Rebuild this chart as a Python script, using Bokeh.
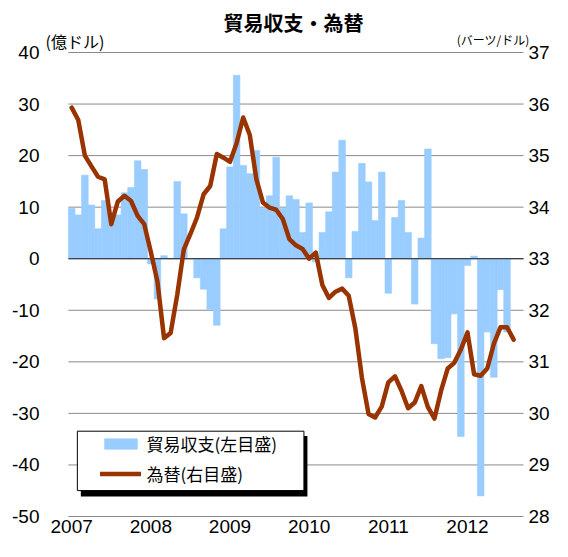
import pandas as pd
from bokeh.plotting import figure
from bokeh.models import (Range1d, LinearAxis, FixedTicker, Legend, LegendItem,
                          Label, BoxAnnotation, ColumnDataSource)
from bokeh.embed import file_html
from bokeh.resources import INLINE

# ---------------- data ----------------
months = pd.date_range("2007-01-01", periods=68, freq="MS").strftime("%Y-%m").tolist()

trade_balance = [  # 億ドル, 2007-01 .. 2012-07
    9.8, 8.5, 16.2, 10.4, 5.8, 11.3, 8.3, 8.5, 12.8, 13.8, 19.0, 17.3,
    -1.0, -7.8, 0.6, 0.0, 15.0, 8.7, 0.0, -3.7, -5.9, -9.9, -12.9, 5.8,
    17.8, 35.6, 18.1, 16.5, 21.0, 9.8, 12.2, 19.7, 9.8, 12.2, 11.5, 5.1,
    10.8, -0.6, 5.1, 9.1, 16.8, 23.0, -3.7, 5.3, 18.5, 14.9, 7.4, 16.8,
    -6.7, 8.0, 11.3, 5.1, -8.8, 4.0, 21.3, -16.5, -19.4, -19.2, -10.7, -34.5,
    -1.3, 0.5, -46.0, -14.2, -23.0, -6.0, -14.2,
]

exchange_rate = [  # バーツ/ドル, 2007-01 .. 2012-08
    35.93, 35.69, 35.00, 34.79, 34.59, 34.54, 33.67, 34.11, 34.22, 34.12, 33.83, 33.67,
    33.13, 32.56, 31.46, 31.56, 32.30, 33.18, 33.48, 33.80, 34.25, 34.41, 35.03, 34.96,
    34.88, 35.24, 35.74, 35.40, 34.54, 34.09, 33.99, 33.95, 33.77, 33.38, 33.26, 33.19,
    33.00, 33.12, 32.49, 32.24, 32.36, 32.42, 32.28, 31.65, 30.69, 29.99, 29.92, 30.13,
    30.60, 30.72, 30.44, 30.10, 30.21, 30.53, 30.12, 29.90, 30.44, 30.87, 30.98, 31.24,
    31.57, 30.76, 30.73, 30.87, 31.35, 31.67, 31.67, 31.43,
]

year_labels = ["2007", "2008", "2009", "2010", "2011", "2012"]
left_ticks = [-50, -40, -30, -20, -10, 0, 10, 20, 30, 40]
left_labels = ["-50", "-40", "-30", "-20", "-10", "0", "10", "20", "30", "40"]
right_ticks = [28, 29, 30, 31, 32, 33, 34, 35, 36, 37]
right_labels = ["28", "29", "30", "31", "32", "33", "34", "35", "36", "37"]

title_text = "貿易収支・為替"
left_unit = "(億ドル)"
right_unit = "(バーツ/ドル)"
bar_name = "貿易収支(左目盛)"
line_name = "為替(右目盛)"

# ---------------- layout (canvas pixels) ----------------
W, H = 552, 541
FRAME_L, FRAME_R, FRAME_T, FRAME_B = 40, 535, 0, 527   # drawing frame
PLOT_L, PLOT_R, PLOT_T, PLOT_B = 68, 525, 52, 516      # chart area inside the frame
N_SLOTS = 69

BAR_COLOR = "#99CCFF"
LINE_COLOR = "#993300"
GRID_COLOR = "#8a8a8a"
NUM_FONT = "Liberation Sans"
JP_FONT = "Noto Sans CJK JP"

lo, hi = left_ticks[0], left_ticks[-1]
slot_px = (PLOT_R - PLOT_L) / N_SLOTS
unit_px = (PLOT_B - PLOT_T) / (hi - lo)

def cx(px):  # canvas x -> slot coordinate
    return -0.5 + (px - PLOT_L) / slot_px

def cy(py):  # canvas y -> left-axis value
    return hi - (py - PLOT_T) / unit_px

x_range = Range1d(cx(FRAME_L), cx(FRAME_R))
y_range = Range1d(cy(FRAME_B), cy(FRAME_T))
r_lo, r_hi = right_ticks[0], right_ticks[-1]
rate_per_unit = (r_hi - r_lo) / (hi - lo)
rate_range = Range1d(r_lo + (y_range.start - lo) * rate_per_unit,
                     r_lo + (y_range.end - lo) * rate_per_unit)

bar_src = ColumnDataSource(dict(x=list(range(len(trade_balance))), v=trade_balance,
                                m=months[:len(trade_balance)]))
line_src = ColumnDataSource(dict(x=list(range(len(exchange_rate))), r=exchange_rate,
                                 m=months[:len(exchange_rate)]))

p = figure(width=W, height=H, x_range=x_range, y_range=y_range,
           output_backend="svg", toolbar_location=None,
           min_border_left=FRAME_L, min_border_right=W - FRAME_R,
           min_border_top=FRAME_T, min_border_bottom=H - FRAME_B,
           outline_line_color=None, background_fill_color="white", border_fill_color="white")
p.extra_y_ranges = {"rate": rate_range}

# gridlines limited to the chart area
x_start, x_end = -0.5, N_SLOTS - 0.5
p.segment(x0=[x_start] * len(left_ticks), x1=[x_end] * len(left_ticks),
          y0=left_ticks, y1=left_ticks, line_color=GRID_COLOR, line_width=1)

bars = p.vbar(x="x", top="v", bottom=0, width=1.0, source=bar_src,
              fill_color=BAR_COLOR, line_color=BAR_COLOR, line_width=0.6)
p.segment(x0=[x_start], x1=[x_end], y0=[0], y1=[0], line_color="#222222", line_width=1)
line = p.line(x="x", y="r", source=line_src, y_range_name="rate",
              line_color=LINE_COLOR, line_width=4.5, line_join="round", line_cap="round")

# axes
xa = p.xaxis[0]
xa.ticker = FixedTicker(ticks=[12 * i for i in range(len(year_labels))])
xa.major_label_overrides = {12 * i: y for i, y in enumerate(year_labels)}
ya = p.yaxis[0]
ya.ticker = FixedTicker(ticks=left_ticks)
ya.major_label_overrides = dict(zip(left_ticks, left_labels))
ra = LinearAxis(y_range_name="rate", ticker=FixedTicker(ticks=right_ticks))
ra.major_label_overrides = dict(zip(right_ticks, right_labels))
p.add_layout(ra, "right")

for ax in (xa, ya, ra):
    ax.axis_line_color = None
    ax.major_tick_line_color = None
    ax.minor_tick_line_color = None
    ax.major_tick_out = 0
    ax.major_tick_in = 0
    ax.minor_tick_out = 0
    ax.minor_tick_in = 0
    ax.major_label_text_font = NUM_FONT
    ax.major_label_text_font_size = "19px"
    ax.major_label_text_color = "black"
xa.major_label_standoff = -8
ya.major_label_standoff = 1
ra.major_label_standoff = -5

p.xgrid.visible = False
p.ygrid.visible = False

# texts (canvas pixels, measured from the top-left)
p.add_layout(Label(x=293, y=22, x_units="canvas", y_units="canvas", text=title_text,
                   text_font=JP_FONT, text_font_size="20px", text_font_style="bold",
                   text_align="center", text_baseline="middle", text_color="black"))
p.add_layout(Label(x=45, y=40, x_units="canvas", y_units="canvas", text=left_unit,
                   text_font=JP_FONT, text_font_size="16px",
                   text_align="left", text_baseline="middle", text_color="black"))
p.add_layout(Label(x=529, y=39, x_units="canvas", y_units="canvas", text=right_unit,
                   text_font=JP_FONT, text_font_size="12px",
                   text_align="right", text_baseline="middle", text_color="black"))

# legend frame with shadow
shadow = BoxAnnotation(left=cx(80.5), right=cx(308), top=cy(435.5), bottom=cy(496),
                       fill_color="black", fill_alpha=1.0, line_color=None)
frame_box = BoxAnnotation(left=cx(77), right=cx(304.5), top=cy(430.7), bottom=cy(490.1),
                          fill_color="white", fill_alpha=1.0, line_color="black",
                          line_alpha=1.0, line_width=1)
p.add_layout(shadow)
p.add_layout(frame_box)

legend = Legend(items=[LegendItem(label=bar_name, renderers=[bars]),
                       LegendItem(label=line_name, renderers=[line])],
                location=(99.6 - FRAME_L, FRAME_B - 486.4), orientation="vertical",
                border_line_color=None, background_fill_alpha=0.0,
                padding=0, margin=0, spacing=5,
                glyph_width=41, glyph_height=13, label_standoff=6, label_height=18,
                label_text_font=JP_FONT, label_text_font_size="17px",
                label_text_color="black")
p.add_layout(legend, "center")

open("out.html", "w").write(file_html(p, INLINE))
